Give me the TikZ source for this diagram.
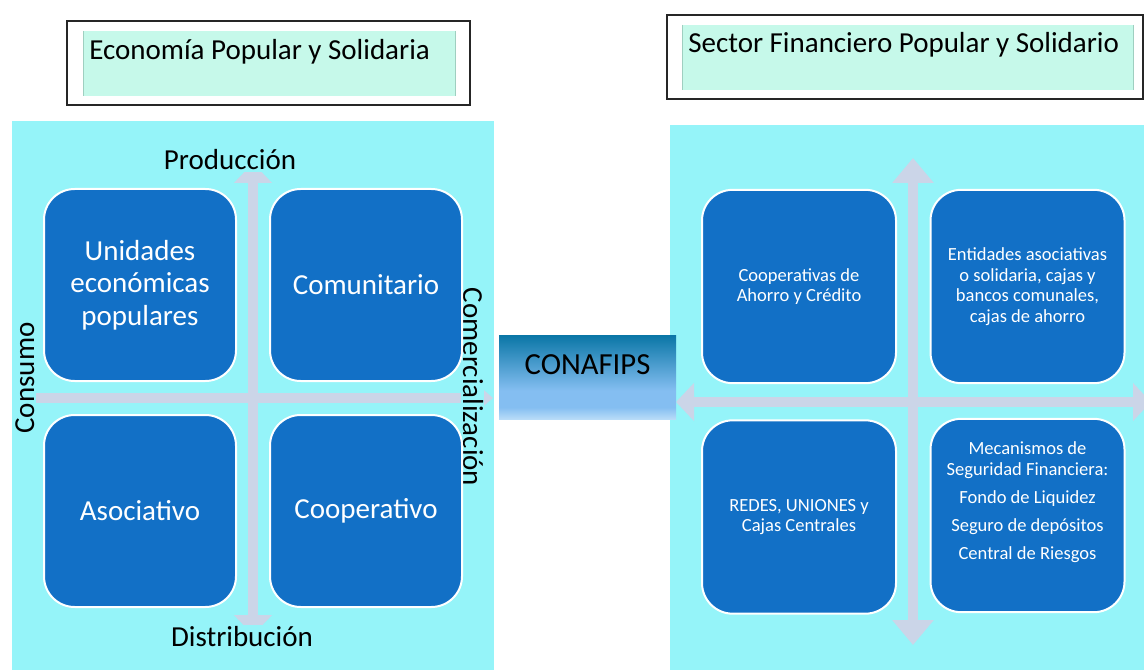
\documentclass[tikz,border=0pt]{standalone}
\usepackage{fontspec}
\setmainfont{Carlito}
\usetikzlibrary{arrows.meta}
\definecolor{panel}{HTML}{95F4F9}
\definecolor{boxblue}{HTML}{1270C6}
\definecolor{axiscol}{HTML}{CBD5E8}
\definecolor{titlefill}{HTML}{C6F9EA}
\definecolor{titleedge}{HTML}{9FCFC0}
\definecolor{conTop}{HTML}{0A76A6}
\definecolor{conMid}{HTML}{84BEF1}
\definecolor{conBot}{HTML}{B8DCF8}
\pgfdeclareverticalshading{conaf}{100bp}{color(0bp)=(conBot); color(25bp)=(conBot); color(32bp)=(conMid); color(42bp)=(conMid); color(75bp)=(conTop); color(100bp)=(conTop)}
\tikzset{
  bigtxt/.style={font=\fontsize{21.75}{24.4}\selectfont},
  smalltxt/.style={font=\fontsize{13.9}{15.4}\selectfont},
  qbox/.style={draw=white, line width=1.5pt, fill=boxblue, rounded corners=23pt, text=white, align=center, inner sep=0pt},
  lbox/.style={qbox, bigtxt, minimum width=144pt, minimum height=144pt},
  rbox/.style={qbox, smalltxt, minimum width=145.5pt, minimum height=145pt},
  axislbl/.style={bigtxt, fill=panel, inner sep=1pt, text=black},
  axisline/.style={draw=axiscol, line width=7.5pt},
  conbox/.style={shading=conaf, minimum width=132.75pt, minimum height=63pt, inner sep=0pt, font=\fontsize{23}{26}\selectfont}
}
\begin{document}
\begin{tikzpicture}[x=0.75pt,y=-0.75pt]
\clip (0,0) rectangle (1144,670);
% panels
\fill[panel] (12,121) rectangle (494,670);
\fill[panel] (670,125) rectangle (1144,670);
% titles
\draw[line width=1.1pt, draw=black!85] (67,21) rectangle (470,105);
\fill[titlefill] (83,31) rectangle (455,96);
\draw[titleedge, line width=0.6pt] (83,31) -- (83,96) (455,31) -- (455,96);
\node[bigtxt, anchor=base west, inner sep=0pt] (t1) at (89,60) {Economía Popular y Solidaria};
\draw[line width=1.1pt, draw=black!85] (667,15) rectangle (1143,99);
\fill[titlefill] (682,25) rectangle (1133,90);
\draw[titleedge, line width=0.6pt] (682,25) -- (682,90) (1133,25) -- (1133,90);
\node[bigtxt, anchor=base west, inner sep=0pt] (t2) at (688,53) {Sector Financiero Popular y Solidario};
% left axes
\coordinate (lvT) at (253,163);
\coordinate (lvB) at (253,635);
\coordinate (lhL) at (15,398);
\coordinate (lhR) at (493,398);
\draw[axisline, {Triangle[width=27.75pt,length=15pt]}-{Triangle[width=27.75pt,length=15pt]}] (lvT) -- (lvB);
\draw[axisline, {Triangle[width=25pt,length=15pt]}-{Triangle[width=25pt,length=15pt]}] (lhL) -- (lhR);
% right axes
\coordinate (rvT) at (913,158);
\coordinate (rvB) at (913,645);
\coordinate (rhL) at (676,402);
\coordinate (rhR) at (1151,402);
\draw[axisline, {Triangle[width=30pt,length=18.75pt]}-{Triangle[width=30pt,length=18.75pt]}] (rvT) -- (rvB);
\draw[axisline, {Triangle[width=27.75pt,length=13.5pt]}-{Triangle[width=27.75pt,length=13.5pt]}] (rhL) -- (rhR);
% axis labels
\node[axislbl, anchor=base] (prod) at (230,170) {Producción};
\node[axislbl, anchor=base] (dist) at (242,646) {Distribución};
\node[axislbl, anchor=base, rotate=90] (cons) at (34,378) {Consumo};
\node[axislbl, anchor=base, rotate=-90] (comer) at (463,387) {Comercialización};
% left boxes
\node[lbox] (uep) at (140,285) {Unidades\\económicas\\populares};
\node[lbox] (com) at (366,285) {Comunitario};
\node[lbox] (aso) at (140,511) {Asociativo};
\node[lbox] (coop) at (366,511) {Cooperativo};
% right boxes
\node[rbox] (cac) at (799,286.5) {Cooperativas de\\Ahorro y Crédito};
\node[rbox] (ent) at (1027.5,286.5) {Entidades asociativas\\o solidaria, cajas y\\bancos comunales,\\cajas de ahorro};
\node[rbox] (red) at (799,517) {REDES, UNIONES y\\Cajas Centrales};
\node[rbox] (mec) at (1027.5,515.5) {};
\node[smalltxt, text=white, align=center, inner sep=0pt] (mectext) at (1027.5,502) {Mecanismos de\\Seguridad Financiera:\\[5.6pt]Fondo de Liquidez\\[5.6pt]Seguro de depósitos\\[5.6pt]Central de Riesgos};
% CONAFIPS
\node[conbox] (conafips) at (587.5,377) {\raisebox{9pt}[\height][\depth]{CONAFIPS}};
\end{tikzpicture}
\end{document}
